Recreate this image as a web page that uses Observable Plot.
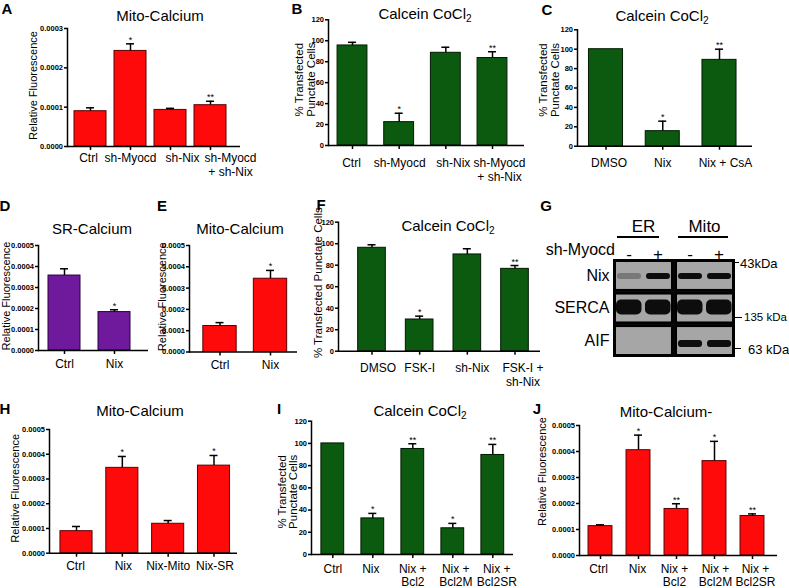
<!DOCTYPE html>
<html><head><meta charset="utf-8">
<script src="https://cdn.jsdelivr.net/npm/d3@7"></script>
<script src="https://cdn.jsdelivr.net/npm/@observablehq/plot@0.6"></script>
<style>
html,body{margin:0;padding:0;background:#fff;}
#fig{position:relative;width:789px;height:588px;overflow:hidden;font-family:"Liberation Sans",Arial,Helvetica,sans-serif;}
#fig svg{position:absolute;left:0;top:0;}
.lbl{position:absolute;white-space:nowrap;line-height:1;color:#000;}
.letter{font-weight:bold;font-size:15px;transform:translate(-50%,-50%);}
.title{font-size:15px;transform:translate(-50%,-50%);}
.sub{font-size:10px;position:relative;top:3px;}
.hline{position:absolute;height:1.5px;background:#000;}
</style></head><body><div id="fig"></div>
<script>
// ---------- DATA ----------
const aCats = ["Ctrl", "sh-Myocd", "sh-Nix", "sh-Myocd\n+ sh-Nix"];
const aVals = [0.0000897, 0.000243, 0.000093, 0.000105];
const aErrs = [0.0000087, 0.000018, 0.000004, 0.00001];
const aStars = ["", "*", "", "**"];

const bCats = ["Ctrl", "sh-Myocd", "sh-Nix", "sh-Myocd\n+ sh-Nix"];
const bVals = [95.5, 22.3, 88.5, 83.5];
const bErrs = [3, 8.5, 5.3, 6];
const bStars = ["", "*", "", "**"];

const cCats = ["DMSO", "Nix", "Nix + CsA"];
const cVals = [100, 15.5, 89];
const cErrs = [0, 10.3, 11];
const cStars = ["", "*", "**"];

const dCats = ["Ctrl", "Nix"];
const dVals = [0.000357, 0.000183];
const dErrs = [0.000032, 0.000011];
const dStars = ["", "*"];

const eCats = ["Ctrl", "Nix"];
const eVals = [0.000122, 0.000344];
const eErrs = [0.000016, 0.000039];
const eStars = ["", "*"];

const fCats = ["DMSO", "FSK-I", "sh-Nix", "FSK-I +\nsh-Nix"];
const fVals = [96.2, 29.5, 90, 76.6];
const fErrs = [2.8, 3.1, 5.3, 3.1];
const fStars = ["", "*", "", "**"];

const hCats = ["Ctrl", "Nix", "Nix-Mito", "Nix-SR"];
const hVals = [0.000089, 0.000345, 0.000119, 0.000354];
const hErrs = [0.000019, 0.000046, 0.000013, 0.000041];
const hStars = ["", "*", "", "*"];

const iCats = ["Ctrl", "Nix", "Nix +\nBcl2", "Nix +\nBcl2M", "Nix +\nBcl2SR"];
const iVals = [100, 32.5, 95, 23.6, 89.6];
const iErrs = [0, 4.5, 4.7, 4.4, 9.5];
const iStars = ["", "*", "**", "*", "**"];

const jCats = ["Ctrl", "Nix", "Nix +\nBcl2", "Nix +\nBcl2M", "Nix +\nBcl2SR"];
const jVals = [0.000113, 0.000405, 0.000179, 0.000363, 0.000152];
const jErrs = [0.000005, 0.000058, 0.00002, 0.000076, 0.000008];
const jStars = ["", "*", "**", "*", "**"];

const fluoTicks3 = [0, 0.0001, 0.0002, 0.0003];
const fluoTicks5 = [0, 0.0001, 0.0002, 0.0003, 0.0004, 0.0005];
const pctTicks = [0, 20, 40, 60, 80, 100, 120];

// western blot (G)
const blotRows = ["Nix", "SERCA", "AIF"];
const blotGroups = ["ER", "Mito"];
const blotLanes = ["-", "+"];
const nixBands = [0.3, 1, 1, 1];     // ER-, ER+, Mito-, Mito+
const sercaBands = [1, 1, 1, 1];
const aifBands = [0, 0, 1, 1];
const markers = ["43kDa", "135 kDa", "63 kDa"];

// ---------- RENDER ----------
const W = 789, H = 588;
const FONT = "Liberation Sans, Arial, Helvetica, sans-serif";
const RED = "#ff0a0a", RED_S = "#5a0000";
const GREEN = "#0b5a10", GREEN_S = "#021a02";
const PURPLE = "#6f1a9c", PURPLE_S = "#2a0040";
const fmt4 = d3.format(".4f"), fmt0 = d3.format("d");
const fig = document.getElementById("fig");

function barPanel(p) {
  const data = p.cats.map((c, i) => ({cat: c, v: p.vals[i], e: p.errs[i], s: p.stars[i]}));
  const step = (p.c1 - p.c0) / (p.cats.length - 1);
  const r0 = p.c0 - step / 2, r1 = p.c1 + step / 2;
  const bw = step * (1 - p.pad);
  const cap = Math.max(0, (bw - 8) / 2);
  const err = data.filter(d => d.e > 0);
  const loff = p.loff || p.cats.map(() => 0);
  const labelMarks = p.cats.map((c, i) => Plot.text([c], {
    x: d => d, text: d => d, frameAnchor: "bottom", lineAnchor: "top",
    dy: 4 + p.xpad, dx: loff[i], fontSize: 12, lineHeight: p.lh || 1.15
  }));
  return Plot.plot({
    width: W, height: H,
    marginLeft: p.left, marginRight: W - p.right, marginTop: p.top, marginBottom: H - p.bottom,
    style: {background: "transparent", overflow: "visible", fontFamily: FONT, color: "#000"},
    x: {type: "band", domain: p.cats, paddingInner: p.pad, paddingOuter: p.pad / 2,
        insetLeft: r0 - p.left, insetRight: p.right - r1, round: false},
    y: {domain: p.domain},
    marks: [
      Plot.barY(data, {x: "cat", y: "v", fill: p.fill, stroke: p.stroke, strokeWidth: 1}),
      Plot.ruleX(err, {x: "cat", y1: "v", y2: d => d.v + d.e, stroke: "#000", strokeWidth: 1.5}),
      Plot.tickY(err, {x: "cat", y: d => d.v + d.e, insetLeft: cap, insetRight: cap, stroke: "#000", strokeWidth: 1.5}),
      Plot.text(data.filter(d => d.s), {x: "cat", y: d => d.v + d.e, text: "s", lineAnchor: "bottom", dy: -1, fontSize: 9}),
      Plot.ruleY([p.domain[0]], {stroke: "#000", strokeWidth: 1.5}),
      Plot.frame({anchor: "left", stroke: "#000", strokeWidth: 1.5}),
      Plot.axisY({ticks: p.ticks, tickFormat: p.fmt, tickSize: 3, tickPadding: 1.5, fontSize: 7.5, fontWeight: "bold", label: null, strokeWidth: 1.5}),
      Plot.axisX({tickSize: 4, tickFormat: () => "", label: null, strokeWidth: 1.5}),
      ...labelMarks,
      Plot.text([p.ylabel], {text: d => d, frameAnchor: "left", textAnchor: "middle", lineAnchor: "middle", rotate: -90, dx: p.ldx, dy: p.ldy, fontSize: p.lfs, lineHeight: 1})
    ]
  });
}

const panels = [
  {cats: aCats, vals: aVals, errs: aErrs, stars: aStars, fill: RED, stroke: RED_S, domain: [0, 0.0003], ticks: fluoTicks3, fmt: fmt4,
   left: 67, right: 240, top: 28, bottom: 146, c0: 90, c1: 210, pad: 0.2, xpad: 2, loff: [-2, 0, 12, 20],
   ylabel: "Relative Fluorescence", ldx: -34, ldy: -2, lfs: 11},
  {cats: bCats, vals: bVals, errs: bErrs, stars: bStars, fill: GREEN, stroke: GREEN_S, domain: [0, 120], ticks: pctTicks, fmt: fmt0,
   left: 328, right: 524, top: 19.3, bottom: 145, c0: 352, c1: 492, pad: 0.36, xpad: 8, loff: [-1, 0.5, 7.5, 7],
   ylabel: "% Transfected\nPunctate Cells", ldx: -23, ldy: -3, lfs: 11.5},
  {cats: cCats, vals: cVals, errs: cErrs, stars: cStars, fill: GREEN, stroke: GREEN_S, domain: [0, 120], ticks: pctTicks, fmt: fmt0,
   left: 577, right: 752, top: 29.3, bottom: 145.7, c0: 605.5, c1: 719, pad: 0.4, xpad: 7, loff: [3, 0, 6],
   ylabel: "% Transfected\nPunctate Cells", ldx: -28, ldy: -8, lfs: 11.5},
  {cats: dCats, vals: dVals, errs: dErrs, stars: dStars, fill: PURPLE, stroke: PURPLE_S, domain: [0, 0.0005], ticks: fluoTicks5, fmt: fmt4,
   left: 38, right: 148, top: 245, bottom: 350, c0: 64, c1: 114, pad: 0.36, xpad: 4,
   ylabel: "Relative Fluorescence", ldx: -32, ldy: -2, lfs: 11},
  {cats: eCats, vals: eVals, errs: eErrs, stars: eStars, fill: RED, stroke: RED_S, domain: [0, 0.0005], ticks: fluoTicks5, fmt: fmt4,
   left: 189, right: 297, top: 245, bottom: 351.5, c0: 219.5, c1: 270, pad: 0.34, xpad: 3,
   ylabel: "Relative Fluorescence", ldx: -27, ldy: -2, lfs: 11},
  {cats: fCats, vals: fVals, errs: fErrs, stars: fStars, fill: GREEN, stroke: GREEN_S, domain: [0, 120], ticks: pctTicks, fmt: fmt0,
   left: 338, right: 540, top: 221.7, bottom: 350.7, c0: 371.5, c1: 514.5, pad: 0.42, xpad: 7, loff: [6, 0, 5, 8],
   ylabel: "% Transfected Punctate Cells", ldx: -20, ldy: -4, lfs: 11.5},
  {cats: hCats, vals: hVals, errs: hErrs, stars: hStars, fill: RED, stroke: RED_S, domain: [0, 0.0005], ticks: fluoTicks5, fmt: fmt4,
   left: 49, right: 237, top: 429, bottom: 552.7, c0: 76, c1: 213.5, pad: 0.3, xpad: 3, loff: [-1, 1, 0, 1],
   ylabel: "Relative Fluorescence", ldx: -34, ldy: -3, lfs: 11},
  {cats: iCats, vals: iVals, errs: iErrs, stars: iStars, fill: GREEN, stroke: GREEN_S, domain: [0, 120], ticks: pctTicks, fmt: fmt0,
   left: 311, right: 513, top: 420.7, bottom: 554, c0: 332.3, c1: 492.3, pad: 0.43, xpad: 6, lh: 1.05, loff: [0, -2, 0, 3, 4],
   ylabel: "% Transfected\nPunctate Cells", ldx: -23.5, ldy: 4, lfs: 11.5},
  {cats: jCats, vals: jVals, errs: jErrs, stars: jStars, fill: RED, stroke: RED_S, domain: [0, 0.0005], ticks: fluoTicks5, fmt: fmt4,
   left: 579, right: 777, top: 425, bottom: 555, c0: 600, c1: 752, pad: 0.37, xpad: 5, lh: 1.05, loff: [-2, -1, -2, 1, 3],
   ylabel: "Relative Fluorescence", ldx: -37, ldy: -19, lfs: 11}
];
panels.forEach(p => fig.appendChild(barPanel(p)));

// western blot
const bandTable = [];
const laneTable = [];
blotGroups.forEach((g, gi) => blotLanes.forEach((l, li) => {
  const k = gi * 2 + li;
  laneTable.push({group: g, lane: l});
  bandTable.push({group: g, lane: l, row: "Nix", intensity: nixBands[k]});
  bandTable.push({group: g, lane: l, row: "SERCA", intensity: sercaBands[k]});
  bandTable.push({group: g, lane: l, row: "AIF", intensity: aifBands[k]});
}));
const blot = Plot.plot({
  width: W, height: H,
  marginLeft: 614, marginRight: W - 733, marginTop: 260, marginBottom: H - 355,
  style: {background: "transparent", overflow: "visible", fontFamily: FONT, color: "#000"},
  fx: {domain: blotGroups, paddingInner: 0.05, paddingOuter: 0, axis: null, round: false},
  fy: {domain: blotRows, paddingInner: 0.08, paddingOuter: 0, axis: null, round: false},
  x: {type: "band", domain: blotLanes, padding: 0, axis: null, round: false},
  opacity: {type: "identity"},
  marks: [
    Plot.frame({fill: "#a6a6a6", stroke: "#000", strokeWidth: 3}),
    Plot.cell(bandTable.filter(d => d.row === "Nix"), {fx: "group", fy: "row", x: "lane", fill: "#0d0d0d", fillOpacity: "intensity", insetTop: 13, insetBottom: 11, insetLeft: 3, insetRight: 2, rx: 3}),
    Plot.cell(bandTable.filter(d => d.row === "SERCA"), {fx: "group", fy: "row", x: "lane", fill: "#0d0d0d", fillOpacity: "intensity", insetTop: 7, insetBottom: 8, insetLeft: 2, insetRight: 1.5, rx: 5}),
    Plot.cell(bandTable.filter(d => d.row === "AIF"), {fx: "group", fy: "row", x: "lane", fill: "#0d0d0d", fillOpacity: "intensity", insetTop: 15, insetBottom: 8, insetLeft: 3, insetRight: 2, rx: 3}),
    Plot.text(blotGroups, {fx: d => d, fy: () => "Nix", frameAnchor: "top", dy: -41, text: d => d, fontSize: 17}),
    Plot.text(laneTable, {fx: "group", fy: () => "Nix", x: "lane", frameAnchor: "top", dy: -13, text: "lane", fontSize: 17}),
    Plot.axisFy({anchor: "left", tickSize: 0, tickPadding: 5, fontSize: 16, label: null})
  ]
});
fig.appendChild(blot);

// ---------- text overlays (layout) ----------
function addDiv(cls, html, x, y, extra) {
  const d = document.createElement("div");
  d.className = "lbl " + cls;
  d.innerHTML = html;
  d.style.left = x + "px"; d.style.top = y + "px";
  if (extra) Object.assign(d.style, extra);
  fig.appendChild(d);
  return d;
}
[["A", 7, 8], ["B", 297, 8], ["C", 547, 9], ["D", 5, 205], ["E", 162, 205], ["F", 321, 204],
 ["G", 546, 205], ["H", 5, 408], ["I", 279, 408], ["J", 537, 408]].forEach(([t, x, y]) => addDiv("letter", t, x, y));
const calcein = 'Calcein CoCl<span class="sub">2</span>';
[["Mito-Calcium", 160, 15], [calcein, 425, 13], [calcein, 662, 15], ["SR-Calcium", 92, 228],
 ["Mito-Calcium", 240, 228], [calcein, 448, 225], ["Mito-Calcium", 140, 410], [calcein, 420, 410],
 ["Mito-Calcium-", 666, 411]].forEach(([t, x, y]) => addDiv("title", t, x, y));
// blot header
addDiv("", "sh-Myocd", 615, 250, {fontSize: "16px", transform: "translate(-100%,-50%)"});
[[617, 659], [678, 728]].forEach(([a, b]) => {
  const l = document.createElement("div"); l.className = "hline";
  Object.assign(l.style, {left: a + "px", width: (b - a) + "px", top: "236px"}); fig.appendChild(l);
});
[[markers[0], 733, 739, 740, 263, 13], [markers[1], 733, 742, 744, 318, 11.5], [markers[2], 735, 741, 748, 349, 13]].forEach(([t, a, b, tx, y, fs]) => {
  const l = document.createElement("div"); l.className = "hline";
  Object.assign(l.style, {left: a + "px", width: (b - a) + "px", top: (y - 0.75) + "px", height: "1px"}); fig.appendChild(l);
  addDiv("", t, tx, y, {fontSize: fs + "px", transform: "translate(0,-50%)"});
});
</script>
</body></html>
